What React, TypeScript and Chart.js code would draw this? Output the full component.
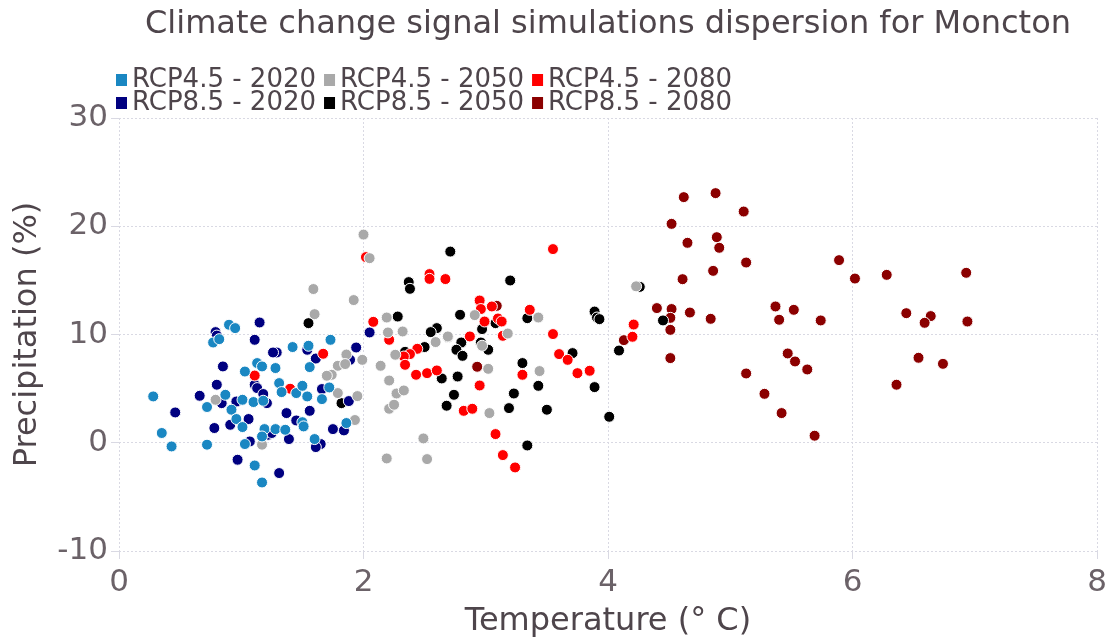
import React, { useEffect, useRef } from "react";
import { Chart, registerables } from "chart.js";

Chart.register(...registerables);

const TITLE = "Climate change signal simulations dispersion for Moncton";
const X_TITLE = "Temperature (° C)";
const Y_TITLE = "Precipitation (%)";

const SERIES_LABELS = [
  "RCP4.5 - 2020",
  "RCP4.5 - 2050",
  "RCP4.5 - 2080",
  "RCP8.5 - 2020",
  "RCP8.5 - 2050",
  "RCP8.5 - 2080",
];
const SERIES_COLORS = ["#1a87c2", "#a9a9a9", "#ff0000", "#000080", "#000000", "#8b0000"];

const RCP45_2020: number[][] = [
  [0.28, 4.28], [0.35, 0.9], [0.43, -0.34], [0.72, -0.18], [0.72, 3.3], [0.9, 10.9], [0.95, 10.59],
  [0.77, 9.26], [0.82, 9.57], [0.87, 4.43], [0.92, 3.05], [0.96, 2.19], [1.01, 1.45], [1.03, 6.58],
  [1.01, 3.97], [1.1, 3.76], [1.13, 7.36], [1.17, 7.05], [1.18, 3.88], [1.19, 1.26], [1.17, 0.58],
  [1.03, -0.12], [1.11, -2.1], [1.17, -3.67], [1.28, 1.26], [1.28, 6.9], [1.31, 5.51], [1.33, 4.68],
  [1.36, 1.2], [1.42, 8.84], [1.45, 4.59], [1.5, 5.26], [1.54, 4.28], [1.5, 1.9], [1.51, 1.51],
  [1.55, 8.96], [1.56, 6.99], [1.6, 0.34], [1.66, 4.03], [1.72, 5.11], [1.73, 9.51], [1.86, 1.82],
];
const RCP45_2050: number[][] = [
  [2.0, 19.23], [2.05, 17.05], [1.92, 13.18], [1.59, 14.2], [1.6, 11.88], [1.86, 8.15], [1.79, 7.11],
  [1.85, 7.27], [1.99, 7.66], [1.74, 6.28], [1.7, 6.19], [1.79, 4.59], [1.95, 4.31], [1.93, 2.1],
  [0.79, 3.97], [1.17, -0.18], [2.19, 11.57], [2.2, 10.19], [2.32, 10.28], [2.26, 8.13], [2.14, 7.11],
  [2.21, 5.75], [2.27, 4.55], [2.33, 4.83], [2.21, 3.14], [2.25, 3.51], [2.49, 0.4], [2.19, -1.45],
  [2.52, -1.51], [2.59, 9.3], [2.69, 9.82], [2.91, 11.79], [2.97, 8.96], [3.02, 6.83], [3.03, 2.74],
  [3.18, 10.09], [3.43, 11.57], [3.44, 6.62], [4.23, 14.45],
];
const RCP45_2080: number[][] = [
  [3.55, 17.89], [2.02, 17.15], [2.54, 15.58], [2.54, 15.14], [2.67, 15.12], [2.95, 13.14], [2.96, 12.35],
  [3.05, 12.59], [3.1, 11.48], [3.13, 11.2], [2.99, 11.2], [3.36, 12.28], [2.08, 11.17], [3.14, 9.88],
  [3.55, 10.04], [2.87, 9.82], [2.21, 9.51], [2.44, 8.68], [2.38, 8.19], [2.33, 7.97], [2.34, 7.2],
  [3.6, 8.19], [3.67, 7.66], [3.75, 6.43], [3.85, 6.65], [2.43, 6.28], [2.52, 6.43], [2.6, 6.68],
  [3.3, 6.28], [2.95, 5.29], [2.82, 2.95], [2.89, 3.14], [3.08, 0.8], [3.14, -1.14], [3.24, -2.28],
  [4.21, 10.92], [4.2, 9.79], [1.67, 8.22], [1.11, 6.21], [1.4, 4.99],
];
const RCP85_2020: number[][] = [
  [0.79, 10.22], [0.8, 9.9], [1.15, 11.11], [1.11, 9.51], [1.29, 8.34], [1.26, 8.34], [0.85, 7.05],
  [0.8, 5.36], [0.66, 4.34], [0.46, 2.8], [0.84, 3.66], [0.78, 1.36], [0.91, 1.66], [1.06, 2.19],
  [0.96, 3.81], [1.11, 5.36], [1.13, 5.05], [1.18, 4.5], [1.21, 3.66], [1.07, 0.12], [1.22, 0.74],
  [1.25, 0.9], [0.97, -1.57], [1.31, -2.8], [1.39, 0.34], [1.37, 2.74], [1.45, 2.06], [1.56, 2.95],
  [1.54, 8.59], [1.61, 7.78], [1.66, 4.96], [1.65, -0.12], [1.61, -0.4], [1.75, 1.26], [1.84, 1.14],
  [1.88, 3.85], [1.89, 7.66], [1.94, 8.8], [2.05, 10.19],
];
const RCP85_2050: number[][] = [
  [2.71, 17.66], [2.37, 14.84], [2.38, 14.22], [3.2, 14.99], [2.28, 11.66], [2.6, 10.59], [2.55, 10.22],
  [2.79, 11.82], [2.97, 10.5], [3.08, 11.05], [3.34, 11.51], [3.89, 12.12], [3.91, 11.57], [3.93, 11.42],
  [2.34, 8.4], [2.5, 8.84], [2.8, 9.26], [2.76, 8.59], [2.81, 8.03], [2.96, 9.26], [3.02, 8.59],
  [2.69, 9.76], [3.3, 7.36], [3.71, 8.28], [2.64, 5.94], [2.77, 6.12], [2.74, 4.43], [3.23, 4.55],
  [3.43, 5.26], [3.89, 5.14], [2.68, 3.42], [3.19, 3.2], [3.5, 3.05], [3.34, -0.25], [4.01, 2.4],
  [1.55, 11.05], [1.82, 3.66], [4.26, 14.4], [4.45, 11.3], [4.09, 8.52],
];
const RCP85_2080: number[][] = [
  [4.62, 22.69], [4.88, 23.06], [5.11, 21.36], [4.52, 20.22], [4.65, 18.47], [4.89, 18.99], [4.91, 18.01],
  [5.13, 16.65], [5.89, 16.87], [4.86, 15.88], [4.61, 15.11], [6.02, 15.17], [6.28, 15.51], [6.93, 15.7],
  [4.4, 12.44], [4.52, 12.35], [4.51, 11.54], [4.67, 12.03], [4.84, 11.45], [4.51, 10.43], [4.13, 9.48],
  [4.51, 7.82], [5.37, 12.59], [5.52, 12.28], [5.4, 11.36], [5.74, 11.3], [6.44, 11.97], [6.64, 11.7],
  [6.59, 11.08], [6.94, 11.2], [5.47, 8.25], [5.53, 7.51], [5.63, 6.77], [5.13, 6.4], [6.54, 7.85],
  [6.74, 7.29], [6.36, 5.36], [5.28, 4.52], [5.42, 2.74], [5.69, 0.65], [2.93, 7.02], [3.09, 12.65],
];

const SERIES_DATA = [RCP45_2020, RCP45_2050, RCP45_2080, RCP85_2020, RCP85_2050, RCP85_2080];

const X_MIN = 0, X_MAX = 8, X_STEP = 2;
const Y_MIN = -10, Y_MAX = 30, Y_STEP = 10;

const FONT = "'DejaVu Sans', sans-serif";
const TITLE_COLOR = "#4e454b";
const TICK_COLOR = "#6b6268";
const GRID_COLOR = "#d9d9e3";

const headerPlugin = {
  id: "header",
  afterDraw(chart: any) {
    const { ctx, chartArea } = chart;
    ctx.save();
    ctx.fillStyle = TITLE_COLOR;
    ctx.font = `32px ${FONT}`;
    ctx.textAlign = "center";
    ctx.textBaseline = "middle";
    ctx.fillText(TITLE, (chartArea.left + chartArea.right) / 2, 25);
    ctx.font = `26px ${FONT}`;
    ctx.textAlign = "left";
    const rowsY = [80, 103];
    let x = 116;
    const colX: number[] = [];
    for (let c = 0; c < 3; c++) {
      colX.push(x);
      const w = Math.max(
        ctx.measureText(SERIES_LABELS[c]).width,
        ctx.measureText(SERIES_LABELS[c + 3]).width
      );
      x += 16 + w + 8;
    }
    SERIES_LABELS.forEach((lab, i) => {
      const r = Math.floor(i / 3);
      const c = i % 3;
      const bx = colX[c];
      const by = rowsY[r];
      ctx.fillStyle = SERIES_COLORS[i];
      ctx.fillRect(bx, by - 6, 11, 12);
      ctx.fillStyle = TITLE_COLOR;
      ctx.fillText(lab, bx + 16, by);
    });
    ctx.restore();
  },
};

export default function App() {
  const ref = useRef<HTMLCanvasElement>(null);
  useEffect(() => {
    if (!ref.current) return;
    const chart = new Chart(ref.current, {
      type: "scatter",
      data: {
        datasets: SERIES_LABELS.map((label, i) => ({
          label,
          data: SERIES_DATA[i].map(([x, y]) => ({ x, y })),
          backgroundColor: SERIES_COLORS[i],
          borderColor: "#ffffff",
          borderWidth: 1,
          pointRadius: 5.5,
          pointHoverRadius: 5.5,
        })),
      },
      options: {
        animation: false,
        responsive: true,
        maintainAspectRatio: false,
        layout: { padding: { top: 118, left: 8, right: 0, bottom: 0 } },
        plugins: {
          legend: { display: false },
          title: { display: false },
          tooltip: { enabled: false },
        },
        scales: {
          x: {
            type: "linear",
            min: X_MIN,
            max: X_MAX,
            ticks: { stepSize: X_STEP, color: TICK_COLOR, font: { size: 31, family: FONT }, padding: 5 },
            grid: { color: GRID_COLOR, tickLength: 8 },
            border: { display: false, dash: [2, 2] },
            title: {
              display: true,
              text: X_TITLE,
              color: TITLE_COLOR,
              font: { size: 32, family: FONT },
              padding: 0,
            },
            afterFit(scale: any) {
              scale.height = 90;
              scale.paddingRight = 10;
              scale.paddingLeft = 0;
            },
          },
          y: {
            type: "linear",
            min: Y_MIN,
            max: Y_MAX,
            ticks: { stepSize: Y_STEP, color: TICK_COLOR, font: { size: 31, family: FONT }, padding: 3 },
            grid: { color: GRID_COLOR, tickLength: 8 },
            border: { display: false, dash: [2, 2] },
            title: {
              display: true,
              text: Y_TITLE,
              color: TITLE_COLOR,
              font: { size: 32, family: FONT },
              padding: 0,
            },
            afterFit(scale: any) {
              scale.width = 111;
            },
          },
        },
      },
      plugins: [headerPlugin],
    });
    return () => chart.destroy();
  }, []);
  return (
    <div style={{ position: "fixed", left: 0, top: 0, width: 1107, height: 641 }}>
      <canvas ref={ref} />
    </div>
  );
}
